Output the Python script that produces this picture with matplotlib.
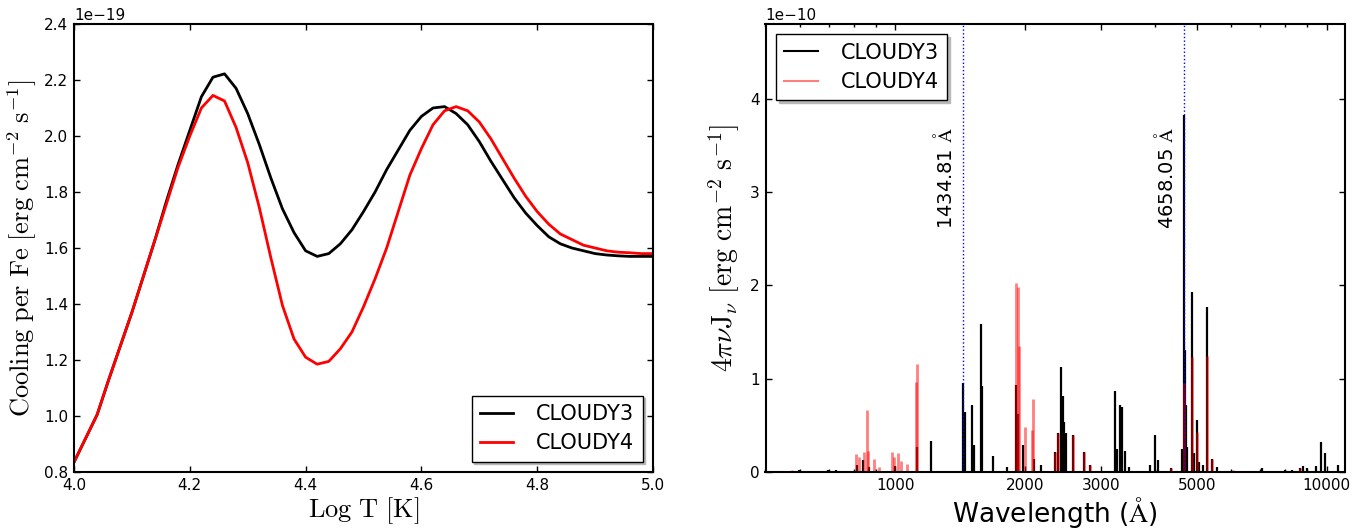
import numpy as np
import matplotlib
matplotlib.use("Agg")
import matplotlib.pyplot as plt
from matplotlib.lines import Line2D
from matplotlib.ticker import FixedLocator, NullFormatter, ScalarFormatter, LogLocator

# ---------------- data: left panel (cooling per Fe, units of 1e-19) ----------------
logT = [4.00, 4.02, 4.04, 4.06, 4.08, 4.10, 4.12, 4.14, 4.16, 4.18,
        4.20, 4.22, 4.24, 4.26, 4.28, 4.30, 4.32, 4.34, 4.36, 4.38,
        4.40, 4.42, 4.44, 4.46, 4.48, 4.50, 4.52, 4.54, 4.56, 4.58,
        4.60, 4.62, 4.64, 4.66, 4.68, 4.70, 4.72, 4.74, 4.76, 4.78,
        4.80, 4.82, 4.84, 4.86, 4.88, 4.90, 4.92, 4.94, 4.96, 4.98, 5.00]
cool_c3 = [0.835, 0.92, 1.005, 1.13, 1.25, 1.37, 1.50, 1.63, 1.77, 1.90,
           2.02, 2.14, 2.21, 2.222, 2.17, 2.08, 1.97, 1.85, 1.74, 1.655,
           1.59, 1.57, 1.58, 1.615, 1.665, 1.73, 1.80, 1.88, 1.95, 2.02,
           2.07, 2.10, 2.105, 2.08, 2.04, 1.98, 1.91, 1.845, 1.78, 1.725,
           1.68, 1.64, 1.615, 1.60, 1.59, 1.58, 1.575, 1.572, 1.57, 1.57, 1.57]
cool_c4 = [0.835, 0.92, 1.005, 1.13, 1.25, 1.37, 1.50, 1.63, 1.76, 1.89,
           2.00, 2.10, 2.145, 2.125, 2.03, 1.905, 1.745, 1.565, 1.395, 1.275,
           1.21, 1.185, 1.195, 1.24, 1.30, 1.39, 1.49, 1.60, 1.73, 1.86,
           1.955, 2.04, 2.09, 2.105, 2.09, 2.05, 1.99, 1.92, 1.85, 1.785,
           1.73, 1.685, 1.65, 1.63, 1.61, 1.60, 1.59, 1.585, 1.583, 1.58, 1.58]

# ---------------- data: right panel (line spectrum, units of 1e-10) ----------------
wave_c3 = [597, 697, 729, 815, 841, 868, 1000, 1121, 1207, 1360,
           1434.81, 1450, 1509, 1522, 1577, 1591, 1680, 1819, 1904, 1920,
           1980, 2100, 2177, 2343, 2385, 2427, 2444, 2467, 2488, 2585,
           2735, 2820, 3223, 3271, 3311, 3360, 3402, 3481, 3889, 3994,
           4066, 4350, 4609, 4658.05, 4683, 4716, 4749, 4870, 4922, 4993,
           5064, 5157, 5270, 5412, 5577, 7077, 8018, 8308, 8656, 8799,
           9006, 9466, 9708, 9935, 10635]
flux_c3 = [0.02, 0.02, 0.02, 0.08, 0.125, 0.05, 0.06, 0.27, 0.333, 0.01,
           0.95, 0.645, 0.717, 0.287, 1.588, 0.92, 0.17, 0.05, 0.93, 0.62,
           0.287, 0.14, 0.08, 0.21, 0.42, 1.12, 0.81, 0.54, 0.42, 0.40,
           0.21, 0.07, 0.867, 0.25, 0.717, 0.70, 0.22, 0.05, 0.08, 0.40,
           0.13, 0.04, 0.25, 3.83, 1.31, 0.72, 0.27, 1.93, 0.20, 0.56,
           0.11, 0.07, 1.77, 0.14, 0.05, 0.04, 0.02, 0.02, 0.04, 0.065,
           0.04, 0.06, 0.32, 0.20, 0.07]

wave_c4 = [575, 810, 824, 847, 859, 866, 891, 915, 983, 995,
           1015, 1031, 1065, 1118, 1124, 1904, 1920, 1938, 1998, 2070,
           2081, 2343, 2385, 2585, 2735, 2820, 4350, 4658.05, 4870, 4993,
           5270, 5412, 6076, 8656]
flux_c4 = [0.02, 0.19, 0.16, 0.215, 0.66, 0.22, 0.14, 0.05, 0.215, 0.16,
           0.20, 0.12, 0.09, 0.96, 1.16, 2.02, 1.98, 1.35, 0.48, 0.455,
           0.78, 0.21, 0.42, 0.40, 0.21, 0.07, 0.04, 0.95, 1.23, 0.43,
           1.24, 0.14, 0.02, 0.04]

marked_lines = [1434.81, 4658.05]
marked_labels = [r'1434.81 $\mathrm{\AA}$', r'4658.05 $\mathrm{\AA}$']
series_labels = ['CLOUDY3', 'CLOUDY4']
xticks_right = [1000, 2000, 3000, 5000, 10000]

# ---------------- style ----------------
plt.rcParams.update({
    'font.family': ['DejaVu Sans'],
    'mathtext.fontset': 'cm',
    'xtick.direction': 'in', 'ytick.direction': 'in',
    'xtick.top': True, 'ytick.right': True,
    'xtick.major.size': 4, 'ytick.major.size': 4,
    'xtick.minor.size': 2, 'ytick.minor.size': 2,
    'xtick.major.width': 1.0, 'ytick.major.width': 1.0,
    'xtick.minor.width': 1.0,
    'xtick.labelsize': 11, 'ytick.labelsize': 11,
    'axes.linewidth': 1.5,
    'xtick.major.pad': 4, 'ytick.major.pad': 4,
})

fig = plt.figure(figsize=(13.66, 5.29), dpi=100)
axL = fig.add_axes([74/1366, 57/529, 579/1366, 448/529])
axR = fig.add_axes([765.5/1366, 57/529, 579/1366, 448/529])

legkw = dict(fontsize=15, fancybox=False, shadow={'color': '0.72', 'alpha': 1.0},
             borderpad=0.4, labelspacing=0.45, handlelength=1.6, handletextpad=1.1,
             borderaxespad=0.5, framealpha=1.0)

# ---------------- left panel ----------------
T = np.array(logT)
axL.plot(T, np.array(cool_c3) * 1e-19, color='black', lw=2, label=series_labels[0])
axL.plot(T, np.array(cool_c4) * 1e-19, color='red', lw=2, label=series_labels[1])
axL.set_xlim(4.0, 5.0)
axL.set_ylim(0.8e-19, 2.4e-19)
axL.set_xticks(np.arange(4.0, 5.01, 0.2))
axL.set_yticks(np.arange(0.8, 2.41, 0.2) * 1e-19)
axL.set_xlabel(r'$\mathrm{Log\ T\ [K]}$', fontsize=19, labelpad=2)
axL.set_ylabel(r'$\mathrm{Cooling\ per\ Fe\ [erg\ cm^{-2}\ s^{-1}]}$', fontsize=19, labelpad=4)
lg = axL.legend(loc='lower right', **legkw)
lg.get_frame().set_edgecolor('black')
lg.get_frame().set_linewidth(1.0)

# ---------------- right panel ----------------
axR.vlines(wave_c3, 0, np.array(flux_c3) * 1e-10, color='black', lw=1.6)
axR.vlines(wave_c4, 0, np.array(flux_c4) * 1e-10, color='red', lw=2.0, alpha=0.5)
for wl, lab in zip(marked_lines, marked_labels):
    axR.axvline(wl, color='blue', ls=':', lw=1.0)
    axR.annotate(lab, xy=(wl, 2.6e-10), xytext=(-5, 0), textcoords='offset points',
                 rotation=90, ha='right', va='bottom', fontsize=14)
axR.set_xscale('log')
axR.set_xlim(500, 11000)
axR.set_ylim(0, 4.8e-10)
axR.xaxis.set_major_locator(FixedLocator(xticks_right))
axR.xaxis.set_major_formatter(ScalarFormatter())
axR.xaxis.set_minor_locator(LogLocator(base=10, subs=np.arange(2, 10), numticks=20))
axR.xaxis.set_minor_formatter(NullFormatter())
axR.set_yticks(np.arange(0, 4.01, 1) * 1e-10)
axR.set_xlabel(r'Wavelength ($\mathrm{\AA}$)', fontsize=19, labelpad=2)
axR.set_ylabel(r'$4\pi\nu\mathrm{J}_\nu\ \mathrm{[erg\ cm^{-2}\ s^{-1}]}$', fontsize=20, labelpad=6)
handles = [Line2D([], [], color='black', lw=1.5),
           Line2D([], [], color='red', lw=1.5, alpha=0.5)]
lg2 = axR.legend(handles, series_labels, loc='upper left', **legkw)
lg2.get_frame().set_edgecolor('black')
lg2.get_frame().set_linewidth(1.0)

fig.savefig('out.png', dpi=100)
